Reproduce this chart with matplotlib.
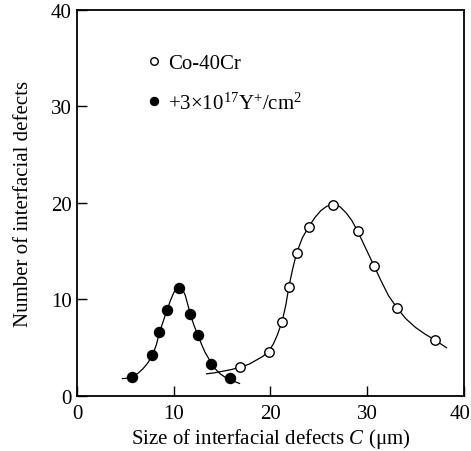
import matplotlib
matplotlib.use("Agg")
import matplotlib.pyplot as plt
from matplotlib.transforms import ScaledTranslation

plt.rcParams['font.family'] = ['Liberation Serif', 'DejaVu Serif']
plt.rcParams['mathtext.fontset'] = 'custom'
plt.rcParams['mathtext.rm'] = 'Liberation Serif'
plt.rcParams['mathtext.it'] = 'Liberation Serif:italic'

# measured points, Y-implanted (filled)
y_x = [5.7, 7.8, 8.5, 9.3, 10.5, 11.7, 12.5, 13.9, 15.8]
y_n = [2.0, 4.2, 6.6, 8.9, 11.2, 8.5, 6.3, 3.3, 1.9]
# measured points, Co-40Cr (open)
co_x = [16.9, 19.8, 21.2, 21.9, 22.7, 24.0, 26.5, 29.0, 30.7, 33.1, 37.0]
co_n = [3.0, 4.6, 7.7, 11.3, 14.8, 17.5, 19.8, 17.1, 13.5, 9.1, 5.8]

# fitted curves
fy_x = [4.7, 5.2, 5.7, 6.3, 6.8, 7.3, 7.8, 8.2, 8.5, 8.9, 9.3, 9.7, 10.0, 10.3, 10.6,
        10.9, 11.2, 11.5, 11.7, 12.1, 12.5, 12.9, 13.2, 13.6, 13.9, 14.3, 14.8, 15.3, 15.8, 16.3, 16.8]
fy_n = [1.8, 1.85, 2.0, 2.35, 2.8, 3.4, 4.2, 5.3, 6.5, 7.7, 8.9, 10.0, 10.7, 11.15, 11.3,
        11.1, 10.4, 9.3, 8.5, 7.3, 6.3, 5.3, 4.6, 3.9, 3.35, 2.8, 2.3, 1.95, 1.7, 1.5, 1.3]
fc_x = [13.4, 14.2, 15.0, 16.0, 16.9, 17.8, 18.5, 19.2, 19.8, 20.3, 20.7, 21.2, 21.6, 21.9,
        22.3, 22.7, 23.3, 24.0, 24.6, 25.2, 25.8, 26.5, 27.2, 27.8, 28.4, 29.0, 29.8, 30.7,
        31.4, 32.2, 33.1, 34.0, 35.0, 36.0, 37.0, 37.6, 38.2]
fc_n = [2.3, 2.4, 2.55, 2.75, 3.0, 3.3, 3.7, 4.1, 4.6, 5.4, 6.3, 7.7, 9.5, 11.3,
        13.2, 14.8, 16.4, 17.6, 18.5, 19.2, 19.65, 19.85, 19.6, 19.0, 18.2, 17.1, 15.4, 13.5,
        12.0, 10.4, 9.1, 8.0, 7.1, 6.4, 5.8, 5.4, 5.0]

fig = plt.figure(figsize=(4.71, 4.52), dpi=100)
ax = fig.add_axes([0.1635, 0.1217, 0.8215, 0.854])

ax.plot(fy_x, fy_n, color='black', lw=0.9)
ax.plot(fc_x, fc_n, color='black', lw=0.9)
ax.plot(co_x, co_n, 'o', mfc='white', mec='black', mew=1.0, ms=6.8, label='Co-40Cr')
ax.plot(y_x, y_n, 'o', mfc='black', mec='black', ms=7.2,
        label=r'$+3{\times}10^{17}$Y$^{+}$/cm$^{2}$')

ax.set_xlim(0, 40)
ax.set_ylim(0, 40)
ax.set_xticks([0, 10, 20, 30, 40])
ax.set_yticks([0, 10, 20, 30, 40])
ax.tick_params(direction='in', length=7, width=1, labelsize=15)
ax.tick_params(axis='x', pad=6)
ax.tick_params(axis='y', pad=4)
for s in ax.spines.values():
    s.set_linewidth(1.3)
# keep the last x tick label inside the figure
last = ax.get_xticklabels()[-1]
last.set_transform(last.get_transform() + ScaledTranslation(-0.04, 0, fig.dpi_scale_trans))

ax.set_xlabel(r'Size of interfacial defects $C$ ($\mathrm{\mu}$m)', fontsize=15, labelpad=2)
ax.set_ylabel('Number of interfacial defects', fontsize=15, labelpad=13)

ax.legend(loc='upper left', bbox_to_anchor=(0.135, 0.935), frameon=False, fontsize=15,
          handlelength=0.6, handletextpad=0.35, labelspacing=0.9, markerscale=0.8)

fig.savefig('out.png', dpi=100)
